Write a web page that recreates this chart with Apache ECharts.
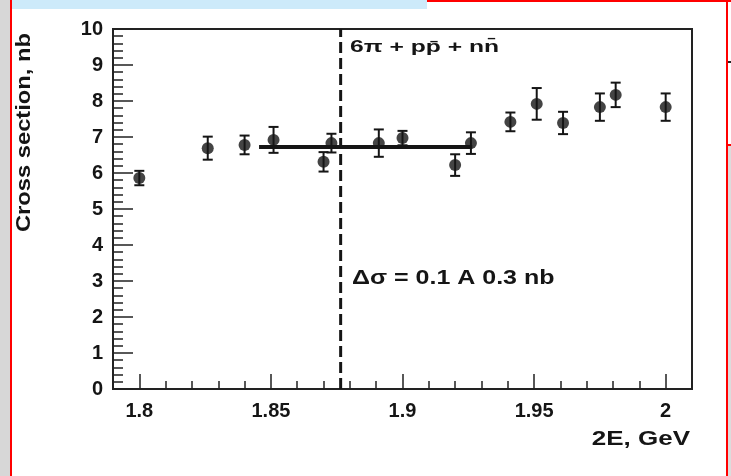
<!DOCTYPE html>
<html><head><meta charset="utf-8">
<script src="https://cdn.jsdelivr.net/npm/echarts@6/dist/echarts.min.js"></script>
<style>html,body{margin:0;padding:0;background:#fff;}#c{width:731px;height:476px;}</style>
</head><body><div id="c"></div>
<script>
// ---- data ----
const energy       = [1.800, 1.826, 1.840, 1.851, 1.870, 1.873, 1.891, 1.900, 1.920, 1.926, 1.941, 1.951, 1.961, 1.975, 1.981, 2.000];
const crossSection = [5.86, 6.69, 6.78, 6.92, 6.31, 6.83, 6.83, 6.97, 6.22, 6.83, 7.42, 7.92, 7.39, 7.83, 8.17, 7.83];
const errors       = [0.20, 0.32, 0.26, 0.36, 0.27, 0.26, 0.38, 0.20, 0.30, 0.30, 0.26, 0.44, 0.31, 0.38, 0.34, 0.38];
const fitX = [1.8455, 1.9265];
const fitY = [6.72, 6.72];
const thresholdX = [1.8765, 1.8765];
const thresholdY = [0, 10];
const xTickLabels = [1.8, 1.85, 1.9, 1.95, 2];
const yTickLabels = [0, 1, 2, 3, 4, 5, 6, 7, 8, 9, 10];
const xMin = 1.79, xMax = 2.01;

const xMinorTicks = [];
for (let k = 179; k <= 201; k++) xMinorTicks.push(k / 100);

const FONT = 'Liberation Sans';
const INK = '#151515';

const chart = echarts.init(document.getElementById('c'), null, {renderer: 'canvas'});
chart.setOption({
  animation: false,
  backgroundColor: '#ffffff',
  grid: {left: 113, right: 39, top: 29, bottom: 87, show: true, borderColor: '#222', borderWidth: 2, backgroundColor: 'transparent'},
  xAxis: [{
    type: 'value', min: xMin, max: xMax,
    axisLine: {show: true, lineStyle: {color: '#222', width: 2}},
    axisTick: {show: true, inside: true, length: 15, customValues: xTickLabels, lineStyle: {color: '#222', width: 1.5}},
    axisLabel: {customValues: xTickLabels, margin: 12, color: INK, fontFamily: FONT, fontWeight: 'bold', fontSize: 20,
      formatter: v => String(+v.toFixed(2))},
    splitLine: {show: false}
  }, {
    type: 'value', min: xMin, max: xMax, position: 'bottom',
    axisLine: {show: false},
    axisTick: {show: true, inside: true, length: 8, customValues: xMinorTicks, lineStyle: {color: '#222', width: 1.5}},
    axisLabel: {show: false},
    splitLine: {show: false}
  }],
  yAxis: {
    type: 'value', min: 0, max: 10, interval: 1,
    axisLine: {show: true, lineStyle: {color: '#222', width: 2}},
    axisTick: {show: true, inside: true, length: 20, lineStyle: {color: '#222', width: 1.5}},
    minorTick: {show: true, splitNumber: 5, length: 10, lineStyle: {color: '#222', width: 1.5}},
    axisLabel: {margin: 10, color: INK, fontFamily: FONT, fontWeight: 'bold', fontSize: 20,
      formatter: v => yTickLabels.includes(v) ? String(v) : ''},
    splitLine: {show: false}
  },
  series: [
    {
      type: 'line', xAxisIndex: 0, data: thresholdX.map((x, i) => [x, thresholdY[i]]),
      symbol: 'none', lineStyle: {color: INK, width: 3, type: [11, 5]}, z: 1, silent: true
    },
    {
      type: 'line', xAxisIndex: 0, data: fitX.map((x, i) => [x, fitY[i]]),
      symbol: 'none', lineStyle: {color: INK, width: 4}, z: 2, silent: true
    },
    {
      type: 'custom', xAxisIndex: 0, z: 3,
      data: energy.map((x, i) => [x, crossSection[i], errors[i]]),
      encode: {x: 0, y: 1},
      renderItem: function (params, api) {
        const x = api.value(0), y = api.value(1), e = api.value(2);
        const t = api.coord([x, y + e]), b = api.coord([x, y - e]);
        const hw = 5, st = {stroke: INK, lineWidth: 2};
        return {type: 'group', children: [
          {type: 'line', shape: {x1: t[0], y1: t[1], x2: b[0], y2: b[1]}, style: st},
          {type: 'line', shape: {x1: t[0] - hw, y1: t[1], x2: t[0] + hw, y2: t[1]}, style: st},
          {type: 'line', shape: {x1: b[0] - hw, y1: b[1], x2: b[0] + hw, y2: b[1]}, style: st}
        ]};
      }
    },
    {
      type: 'scatter', xAxisIndex: 0, z: 4,
      data: energy.map((x, i) => [x, crossSection[i]]),
      symbol: 'circle', symbolSize: 12, itemStyle: {color: INK}
    }
  ],
  graphic: [
    {type: 'rect', shape: {x: 0, y: 0, width: 10, height: 476}, style: {fill: '#d7d7d7'}, silent: true},
    {type: 'rect', shape: {x: 10, y: 0, width: 2, height: 476}, style: {fill: '#ff0000'}, silent: true},
    {type: 'rect', shape: {x: 12, y: 0, width: 415, height: 9}, style: {fill: '#cdeafa'}, silent: true},
    {type: 'rect', shape: {x: 427, y: 0, width: 304, height: 2}, style: {fill: '#ff0000'}, silent: true},
    {type: 'rect', shape: {x: 726, y: 0, width: 2, height: 476}, style: {fill: '#ff0000'}, silent: true},
    {type: 'rect', shape: {x: 728, y: 61, width: 3, height: 2}, style: {fill: '#222'}, silent: true},
    {type: 'rect', shape: {x: 727, y: 144, width: 4, height: 2}, style: {fill: '#ff0000'}, silent: true},
    {type: 'rect', shape: {x: 728, y: 146, width: 3, height: 330}, style: {fill: '#dcdcdc'}, silent: true},
    {type: 'text', x: 24, y: 33, rotation: Math.PI / 2, scaleX: 1.13,
      style: {text: 'Cross section, nb', fill: INK, font: 'bold 21px "Liberation Sans"', align: 'right', verticalAlign: 'middle'}},
    {type: 'text', x: 690, y: 439, scaleX: 1.3,
      style: {text: '2E, GeV', fill: INK, font: 'bold 20px "Liberation Sans"', align: 'right', verticalAlign: 'middle'}},
    {type: 'text', x: 350, y: 47, scaleX: 1.45,
      style: {text: '6π + pp̄ + nn̄', fill: INK, font: 'bold 17px "Liberation Sans"', align: 'left', verticalAlign: 'middle'}},
    {type: 'text', x: 352, y: 278, scaleX: 1.25,
      style: {text: 'Δσ = 0.1 A 0.3 nb', fill: INK, font: 'bold 20px "Liberation Sans"', align: 'left', verticalAlign: 'middle'}}
  ]
});
</script></body></html>
